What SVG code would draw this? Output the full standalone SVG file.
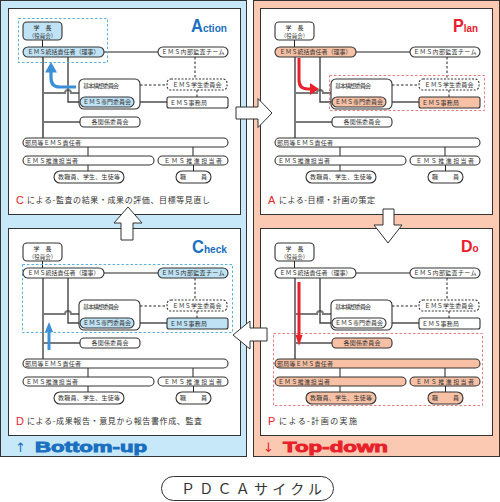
<svg xmlns="http://www.w3.org/2000/svg" width="500" height="502" viewBox="0 0 500 502">
<defs>
<style>
.pb{fill:#c7e8f8;stroke:#333;stroke-width:1}
.pr{fill:#fbc9b1;stroke:#333;stroke-width:1}
.in{fill:#fff;stroke:#333;stroke-width:1}
.n rect{fill:#fff;stroke:#333;stroke-width:1.1}
.nb rect{fill:#bfe2f5}
.nr rect{fill:#f8c1a5}
.nd rect{stroke-dasharray:2 1.5}
.t{font-family:"Noto Sans CJK JP","Noto Sans CJK SC",sans-serif;font-size:6px;fill:#333}
.m{text-anchor:middle}
.c1{fill:none;stroke:#222;stroke-width:1}
.cd{fill:none;stroke:#222;stroke-width:1;stroke-dasharray:2.5 2}
.cg{fill:none;stroke:#7a7a7a;stroke-width:2}
.c2{fill:none;stroke:#444;stroke-width:1.4}
.cap{font-family:"Noto Sans CJK JP","Noto Sans CJK SC",sans-serif;font-size:8px;fill:#333}
.capL{font-family:"Liberation Sans",Arial,sans-serif;font-size:11px;fill:#e8202a}
.ttl{font-family:"Liberation Sans",Arial,sans-serif;font-weight:bold}
.blue{fill:#1a6fc0}
.red{fill:#e8202a}
.hol{fill:#fff;stroke:#333;stroke-width:1}
.sel-b{fill:none;stroke:#5ab0e0;stroke-width:1;stroke-dasharray:2.5 2}
.sel-r{fill:none;stroke:#ef7d7d;stroke-width:1;stroke-dasharray:2.5 2}
.big{font-family:"Liberation Sans",Arial,sans-serif;font-weight:bold;font-size:15px}
</style>
</defs>

<!-- panels -->
<rect class="pb" x="0.5" y="0.5" width="246" height="456"/>
<rect class="pr" x="253.5" y="0.5" width="246" height="456"/>
<rect class="in" x="8.5" y="8.5" width="232" height="206"/>
<rect class="in" x="8.5" y="228.5" width="232" height="207"/>
<rect class="in" x="260.5" y="8.5" width="232" height="206"/>
<rect class="in" x="260.5" y="228.5" width="232" height="207"/>

<!-- ===== ACTION ===== -->
<g id="action" transform="translate(0,0)">
<g id="a-connectors">
<path class="c1" d="M42.5 40 V47"/>
<path class="c1" d="M104 52 H158"/>
<path class="cd" d="M195 57 V79"/>
<path class="cd" d="M140 85 H167"/>
<path class="cd" d="M197 90 V97"/>
<path class="cg" d="M134 102 H167"/>
<path class="c1" d="M43 57 V138" style="stroke-width:1.3"/>
<path class="cg" d="M43 93 H65 A3 3 0 0 1 71 93 H79"/>
<path class="cg" d="M43 122 H80"/>
<path class="c2" d="M68 57 V102 H80"/>
<path class="c1" d="M88 147 V156 M193 147 V156 M88 165 V171 M193.5 165 V171"/>
</g>
<rect class="sel-b" x="18.5" y="18.5" width="89" height="44"/>
<g id="a-gakucho" class="n nb"><rect x="23" y="22" width="39" height="18" rx="4"/><text class="t m" x="42.5" y="30">学　長</text><text class="t m" x="42.5" y="37.5" style="font-size:5.5px">（役員会）</text></g>
<g id="a-tokatsu" class="n nb"><rect x="23" y="47" width="81" height="10" rx="5"/><text class="t m" x="63.5" y="54.3" textLength="72">ＥＭＳ統括責任者（理事）</text></g>
<g id="a-naibu" class="n"><rect x="158" y="47" width="70" height="10" rx="5"/><text class="t m" x="193" y="54.3" textLength="63">ＥＭＳ内部監査チーム</text></g>
<g id="a-gakusei" class="n nd"><rect x="167" y="79" width="60" height="11" rx="4"/><text class="t m" x="197" y="86.8" textLength="49">ＥＭＳ学生委員会</text></g>
<g id="a-kihon" class="n"><rect x="79" y="79" width="61" height="30" rx="5"/><text class="t" x="83" y="87.5" textLength="36">基本構想委員会</text></g>
<g id="a-senmon" class="n nb"><rect x="80" y="97" width="54" height="10" rx="5"/><text class="t m" x="107" y="104.3" textLength="48">ＥＭＳ専門委員会</text></g>
<g id="a-jimukyoku" class="n"><rect x="167" y="97" width="61" height="11" rx="2"/><text class="t" x="170" y="104.8" textLength="37">ＥＭＳ事務局</text></g>
<g id="a-kakukankei" class="n"><rect x="80" y="117" width="60" height="10" rx="4"/><text class="t m" x="110" y="124.3" textLength="37">各関係委員会</text></g>
<g id="a-bukyoku" class="n"><rect x="23" y="138" width="205" height="9" rx="4.5"/><text class="t" x="25" y="144.8" textLength="56">部局等ＥＭＳ責任者</text></g>
<g id="a-suishin1" class="n"><rect x="23" y="156" width="131" height="9" rx="4.5"/><text class="t" x="26" y="162.8" textLength="52">ＥＭＳ推進担当者</text></g>
<g id="a-suishin2" class="n"><rect x="158" y="156" width="70" height="9" rx="4.5"/><text class="t m" x="193" y="162.8" textLength="58">ＥＭＳ推進担当者</text></g>
<g id="a-kyoshokuin" class="n"><rect x="54" y="171" width="70" height="12" rx="6"/><text class="t m" x="89" y="179.3" textLength="62">教職員、学生、生徒等</text></g>
<g id="a-shokuin" class="n"><rect x="176" y="171" width="35" height="12" rx="6"/><text class="t m" x="193.5" y="179.3" textLength="27">職　　員</text></g>
<g id="a-arrow"><path d="M76 87 H60 Q51 87 51 78 V72" fill="none" stroke="#3a8fd8" stroke-width="3.2"/><polygon points="45,72.5 57,72.5 51,62" fill="#3a8fd8"/></g>
<text class="ttl blue" x="191" y="32" textLength="36" lengthAdjust="spacingAndGlyphs"><tspan font-size="18">A</tspan><tspan font-size="11">ction</tspan></text>
<text class="capL" x="16" y="204">C</text>
<text class="cap" x="27" y="203" textLength="183">による-監査の結果・成果の評価、目標等見直し</text>
</g>

<!-- ===== PLAN ===== -->
<g id="plan" transform="translate(252,0)">
<g id="p-connectors">
<path class="c1" d="M42.5 40 V47"/>
<path class="c1" d="M104 52 H158"/>
<path class="cd" d="M195 57 V79"/>
<path class="cd" d="M140 85 H167"/>
<path class="cd" d="M197 90 V97"/>
<path class="cg" d="M134 102 H167"/>
<path class="cg" d="M43 57 V138"/>
<path class="cg" d="M43 93 H65 A3 3 0 0 1 71 93 H79"/>
<path class="cg" d="M43 122 H80"/>
<path class="c2" d="M68 57 V102 H80"/>
<path class="c1" d="M88 147 V156 M193 147 V156 M88 165 V171 M193.5 165 V171"/>
</g>
<rect class="sel-r" x="77.5" y="75.5" width="155" height="35"/>
<g id="p-gakucho" class="n"><rect x="23" y="22" width="39" height="18" rx="4"/><text class="t m" x="42.5" y="30">学　長</text><text class="t m" x="42.5" y="37.5" style="font-size:5.5px">（役員会）</text></g>
<g id="p-tokatsu" class="n nr"><rect x="23" y="47" width="81" height="10" rx="5"/><text class="t m" x="63.5" y="54.3" textLength="72">ＥＭＳ統括責任者（理事）</text></g>
<g id="p-naibu" class="n"><rect x="158" y="47" width="70" height="10" rx="5"/><text class="t m" x="193" y="54.3" textLength="63">ＥＭＳ内部監査チーム</text></g>
<g id="p-gakusei" class="n nd"><rect x="167" y="79" width="60" height="11" rx="4"/><text class="t m" x="197" y="86.8" textLength="49">ＥＭＳ学生委員会</text></g>
<g id="p-kihon" class="n"><rect x="79" y="79" width="61" height="30" rx="5"/><text class="t" x="83" y="87.5" textLength="36">基本構想委員会</text></g>
<g id="p-senmon" class="n nr"><rect x="80" y="97" width="54" height="10" rx="5"/><text class="t m" x="107" y="104.3" textLength="48">ＥＭＳ専門委員会</text></g>
<g id="p-jimukyoku" class="n nr"><rect x="167" y="97" width="61" height="11" rx="2"/><text class="t" x="170" y="104.8" textLength="37">ＥＭＳ事務局</text></g>
<g id="p-kakukankei" class="n"><rect x="80" y="117" width="60" height="10" rx="4"/><text class="t m" x="110" y="124.3" textLength="37">各関係委員会</text></g>
<g id="p-bukyoku" class="n"><rect x="23" y="138" width="205" height="9" rx="4.5"/><text class="t" x="25" y="144.8" textLength="56">部局等ＥＭＳ責任者</text></g>
<g id="p-suishin1" class="n"><rect x="23" y="156" width="131" height="9" rx="4.5"/><text class="t" x="26" y="162.8" textLength="52">ＥＭＳ推進担当者</text></g>
<g id="p-suishin2" class="n"><rect x="158" y="156" width="70" height="9" rx="4.5"/><text class="t m" x="193" y="162.8" textLength="58">ＥＭＳ推進担当者</text></g>
<g id="p-kyoshokuin" class="n"><rect x="54" y="171" width="70" height="12" rx="6"/><text class="t m" x="89" y="179.3" textLength="62">教職員、学生、生徒等</text></g>
<g id="p-shokuin" class="n"><rect x="176" y="171" width="35" height="12" rx="6"/><text class="t m" x="193.5" y="179.3" textLength="27">職　　員</text></g>
<g id="p-arrow"><path d="M47 58 V80 Q47 89 56 89 H58.5" fill="none" stroke="#e8202a" stroke-width="3"/><polygon points="58,83 58,95 67,89" fill="#e8202a"/></g>
<text class="ttl red" x="201" y="32" textLength="25" lengthAdjust="spacingAndGlyphs"><tspan font-size="18">P</tspan><tspan font-size="11">lan</tspan></text>
<text class="capL" x="16" y="204">A</text>
<text class="cap" x="27" y="203" textLength="96">による-目標・計画の策定</text>
</g>

<!-- ===== CHECK ===== -->
<g id="check" transform="translate(0,221)">
<g id="c-connectors">
<path class="c1" d="M42.5 40 V47"/>
<path class="c1" d="M104 52 H158"/>
<path class="cd" d="M195 57 V79"/>
<path class="cd" d="M140 85 H167"/>
<path class="cd" d="M197 90 V97"/>
<path class="cg" d="M134 102 H167"/>
<path class="cg" d="M43 57 V138"/>
<path class="cg" d="M43 93 H65 A3 3 0 0 1 71 93 H79"/>
<path class="cg" d="M43 122 H80"/>
<path class="c2" d="M68 57 V102 H80"/>
<path class="c1" d="M88 147 V156 M193 147 V156 M88 165 V171 M193.5 165 V171"/>
</g>
<rect class="sel-b" x="22.5" y="43.5" width="210" height="68"/>
<g id="c-gakucho" class="n"><rect x="23" y="22" width="39" height="18" rx="4"/><text class="t m" x="42.5" y="30">学　長</text><text class="t m" x="42.5" y="37.5" style="font-size:5.5px">（役員会）</text></g>
<g id="c-tokatsu" class="n"><rect x="23" y="47" width="81" height="10" rx="5"/><text class="t m" x="63.5" y="54.3" textLength="72">ＥＭＳ統括責任者（理事）</text></g>
<g id="c-naibu" class="n nb"><rect x="158" y="47" width="70" height="10" rx="5"/><text class="t m" x="193" y="54.3" textLength="63">ＥＭＳ内部監査チーム</text></g>
<g id="c-gakusei" class="n nd"><rect x="167" y="79" width="60" height="11" rx="4"/><text class="t m" x="197" y="86.8" textLength="49">ＥＭＳ学生委員会</text></g>
<g id="c-kihon" class="n"><rect x="79" y="79" width="61" height="30" rx="5"/><text class="t" x="83" y="87.5" textLength="36">基本構想委員会</text></g>
<g id="c-senmon" class="n nb"><rect x="80" y="97" width="54" height="10" rx="5"/><text class="t m" x="107" y="104.3" textLength="48">ＥＭＳ専門委員会</text></g>
<g id="c-jimukyoku" class="n nb"><rect x="167" y="97" width="61" height="11" rx="2"/><text class="t" x="170" y="104.8" textLength="37">ＥＭＳ事務局</text></g>
<g id="c-kakukankei" class="n"><rect x="80" y="117" width="60" height="10" rx="4"/><text class="t m" x="110" y="124.3" textLength="37">各関係委員会</text></g>
<g id="c-bukyoku" class="n"><rect x="23" y="138" width="205" height="9" rx="4.5"/><text class="t" x="25" y="144.8" textLength="56">部局等ＥＭＳ責任者</text></g>
<g id="c-suishin1" class="n"><rect x="23" y="156" width="131" height="9" rx="4.5"/><text class="t" x="26" y="162.8" textLength="52">ＥＭＳ推進担当者</text></g>
<g id="c-suishin2" class="n"><rect x="158" y="156" width="70" height="9" rx="4.5"/><text class="t m" x="193" y="162.8" textLength="58">ＥＭＳ推進担当者</text></g>
<g id="c-kyoshokuin" class="n"><rect x="54" y="171" width="70" height="12" rx="6"/><text class="t m" x="89" y="179.3" textLength="62">教職員、学生、生徒等</text></g>
<g id="c-shokuin" class="n"><rect x="176" y="171" width="35" height="12" rx="6"/><text class="t m" x="193.5" y="179.3" textLength="27">職　　員</text></g>
<g id="c-arrow"><path d="M49 129 V110" fill="none" stroke="#3a8fd8" stroke-width="3"/><polygon points="45,111 53,111 49,101" fill="#3a8fd8"/></g>
<text class="ttl blue" x="192" y="32" textLength="35" lengthAdjust="spacingAndGlyphs"><tspan font-size="18">C</tspan><tspan font-size="11">heck</tspan></text>
<text class="capL" x="16" y="204">D</text>
<text class="cap" x="27" y="203" textLength="175">による-成果報告・意見から報告書作成、監査</text>
</g>

<!-- ===== DO ===== -->
<g id="do" transform="translate(252,221)">
<g id="d-connectors">
<path class="c1" d="M42.5 40 V47"/>
<path class="c1" d="M104 52 H158"/>
<path class="cd" d="M195 57 V79"/>
<path class="cd" d="M140 85 H167"/>
<path class="cd" d="M197 90 V97"/>
<path class="cg" d="M134 102 H167"/>
<path class="cg" d="M43 57 V138"/>
<path class="cg" d="M43 93 H65 A3 3 0 0 1 71 93 H79"/>
<path class="cg" d="M43 122 H80"/>
<path class="c2" d="M68 57 V102 H80"/>
<path class="c1" d="M88 147 V156 M193 147 V156 M88 165 V171 M193.5 165 V171"/>
</g>
<rect class="sel-r" x="21.5" y="112.5" width="209" height="72"/>
<g id="d-gakucho" class="n"><rect x="23" y="22" width="39" height="18" rx="4"/><text class="t m" x="42.5" y="30">学　長</text><text class="t m" x="42.5" y="37.5" style="font-size:5.5px">（役員会）</text></g>
<g id="d-tokatsu" class="n"><rect x="23" y="47" width="81" height="10" rx="5"/><text class="t m" x="63.5" y="54.3" textLength="72">ＥＭＳ統括責任者（理事）</text></g>
<g id="d-naibu" class="n"><rect x="158" y="47" width="70" height="10" rx="5"/><text class="t m" x="193" y="54.3" textLength="63">ＥＭＳ内部監査チーム</text></g>
<g id="d-gakusei" class="n nd"><rect x="167" y="79" width="60" height="11" rx="4"/><text class="t m" x="197" y="86.8" textLength="49">ＥＭＳ学生委員会</text></g>
<g id="d-kihon" class="n"><rect x="79" y="79" width="61" height="30" rx="5"/><text class="t" x="83" y="87.5" textLength="36">基本構想委員会</text></g>
<g id="d-senmon" class="n"><rect x="80" y="97" width="54" height="10" rx="5"/><text class="t m" x="107" y="104.3" textLength="48">ＥＭＳ専門委員会</text></g>
<g id="d-jimukyoku" class="n"><rect x="167" y="97" width="61" height="11" rx="2"/><text class="t" x="170" y="104.8" textLength="37">ＥＭＳ事務局</text></g>
<g id="d-kakukankei" class="n nr"><rect x="80" y="117" width="60" height="10" rx="4"/><text class="t m" x="110" y="124.3" textLength="37">各関係委員会</text></g>
<g id="d-bukyoku" class="n nr"><rect x="23" y="138" width="205" height="9" rx="4.5"/><text class="t" x="25" y="144.8" textLength="56">部局等ＥＭＳ責任者</text></g>
<g id="d-suishin1" class="n nr"><rect x="23" y="156" width="131" height="9" rx="4.5"/><text class="t" x="26" y="162.8" textLength="52">ＥＭＳ推進担当者</text></g>
<g id="d-suishin2" class="n nr"><rect x="158" y="156" width="70" height="9" rx="4.5"/><text class="t m" x="193" y="162.8" textLength="58">ＥＭＳ推進担当者</text></g>
<g id="d-kyoshokuin" class="n nr"><rect x="54" y="171" width="70" height="12" rx="6"/><text class="t m" x="89" y="179.3" textLength="62">教職員、学生、生徒等</text></g>
<g id="d-shokuin" class="n nr"><rect x="176" y="171" width="35" height="12" rx="6"/><text class="t m" x="193.5" y="179.3" textLength="27">職　　員</text></g>
<g id="d-arrow"><path d="M47 61 V115" fill="none" stroke="#e8202a" stroke-width="3"/><polygon points="43.5,114 50.5,114 47,125" fill="#e8202a"/></g>
<text class="ttl red" x="209" y="31"><tspan font-size="16">D</tspan><tspan font-size="10">o</tspan></text>
<text class="capL" x="16" y="204">P</text>
<text class="cap" x="27" y="203" textLength="78">による-計画の実施</text>
</g>

<!-- hollow transition arrows -->
<g id="cycle-arrows">
<polygon class="hol" points="236,107 258,107 258,98.5 272,113 258,127.5 258,119 236,119"/>
<polygon class="hol" points="383,209 394,209 394,225 402,225 388,243 374,225 383,225"/>
<polygon class="hol" points="267,328 250,328 250,321 233,335 250,349 250,341 267,341"/>
<polygon class="hol" points="121,240 133,240 133,223 142,223 128,207 114,223 121,223"/>
</g>

<!-- bottom labels -->
<text x="15" y="452" font-family="DejaVu Sans,sans-serif" font-size="13" class="blue">↑</text>
<text class="big blue" x="35" y="452" textLength="112" lengthAdjust="spacingAndGlyphs" stroke="#1a6fc0" stroke-width="0.9">Bottom-up</text>
<text x="263" y="452" font-family="DejaVu Sans,sans-serif" font-size="13" class="red">↓</text>
<text class="big red" x="283" y="452" textLength="105" lengthAdjust="spacingAndGlyphs" stroke="#e8202a" stroke-width="0.9">Top-down</text>

<g id="pdca-title">
<rect x="161.5" y="476.5" width="172" height="24" rx="12" fill="#fff" stroke="#333" stroke-width="1"/>
<text x="181" y="494" font-family="Noto Sans CJK JP,sans-serif" font-size="14" fill="#333" textLength="141">ＰＤＣＡサイクル</text>
</g>
</svg>
